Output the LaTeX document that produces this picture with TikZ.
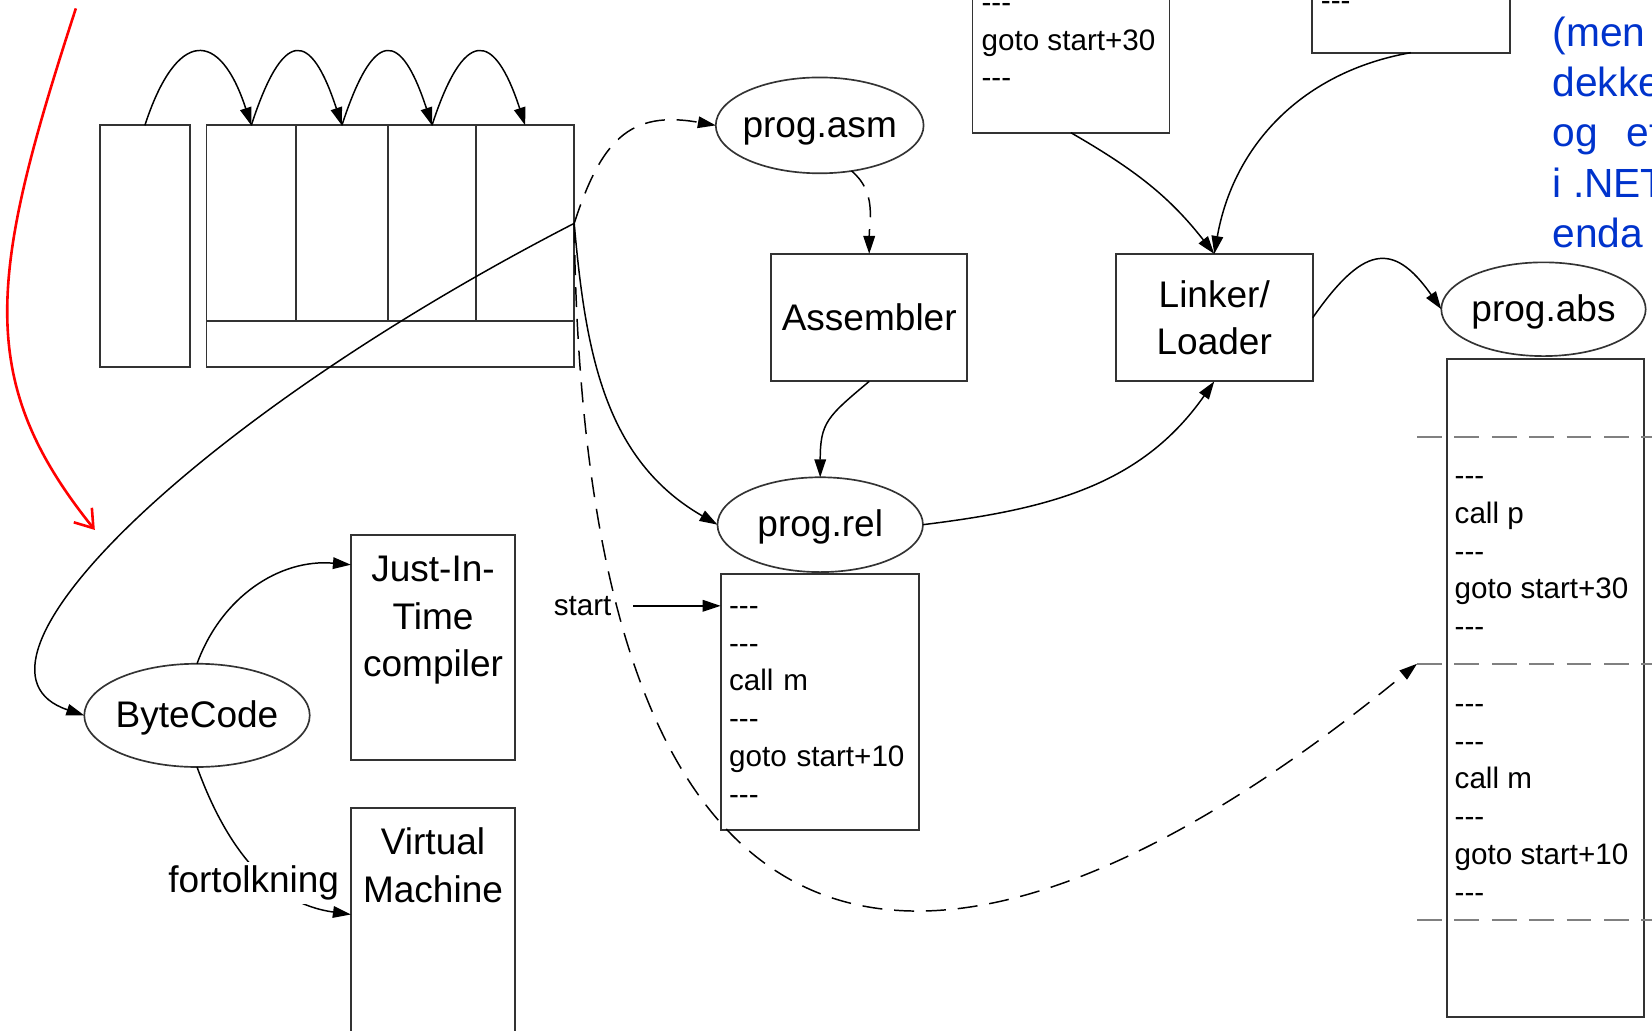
\documentclass[tikz,border=0pt]{standalone}
\usepackage{fontspec}
\setmainfont{Liberation Sans}
\usetikzlibrary{shapes.geometric,arrows.meta,positioning}

\newcommand{\lblfont}{\fontsize{10}{12.8}\selectfont}
\newcommand{\codefont}{\fontsize{8}{10.2}\selectfont}
\newcommand{\notefont}{\fontsize{11}{13.6}\selectfont}
\newcommand{\tripdash}{\strut-\kern0pt-\kern0pt-}
\definecolor{noteblue}{RGB}{0,51,204}

\tikzstyle{blk}=[rectangle, draw=black!80, line width=0.5pt, inner sep=0pt, outer sep=0pt]
\tikzstyle{oval}=[ellipse, draw=black!80, line width=0.45pt, inner xsep=-1pt, inner ysep=0pt, outer sep=0pt, font=\lblfont, text height=0.8em, text depth=0.16em]
\tikzstyle{codetxt}=[align=left, inner sep=0pt, font=\codefont]
\tikzstyle{arr}=[thin, -{Triangle[length=1.7mm,width=1.1mm]}]
\tikzstyle{dsh}=[dash pattern=on 5.4pt off 3.2pt]
\tikzstyle{sepline}=[draw=black!50, line width=0.6pt, dash pattern=on 6.7pt off 3.4pt]

\begin{document}
\begin{tikzpicture}[thin]
\useasboundingbox (0,0) rectangle (15.68,9.78);
\clip (0,0) rectangle (15.68,9.78);

% stack frame and cells
\node[blk, minimum width=0.85cm, minimum height=2.29cm] (lrect) at (1.375,7.445) {};
\node[blk, minimum width=0.85cm, minimum height=1.86cm] (c1) at (2.385,7.66) {};
\node[blk, minimum width=0.87cm, minimum height=1.86cm, right=0pt of c1] (c2) {};
\node[blk, minimum width=0.84cm, minimum height=1.86cm, right=0pt of c2] (c3) {};
\node[blk, minimum width=0.93cm, minimum height=1.86cm, right=0pt of c3] (c4) {};
\node[blk, minimum width=3.49cm, minimum height=0.43cm, anchor=north west] (bar) at (c1.south west) {};

\draw[arr] (lrect.north) .. controls +(0.3,0.92) and +(-0.3,0.92) .. (c1.north);
\draw[arr] (c1.north) .. controls +(0.3,0.92) and +(-0.3,0.92) .. (c2.north);
\draw[arr] (c2.north) .. controls +(0.3,0.92) and +(-0.3,0.92) .. (c3.north);
\draw[arr] (c3.north) .. controls +(0.3,0.92) and +(-0.3,0.92) .. (c4.north);

% assembler chain
\node[oval, minimum width=1.96cm, minimum height=0.91cm] (asm) at (7.78,8.59) {prog.asm};
\node[blk, minimum width=1.86cm, minimum height=1.21cm, font=\lblfont] (assembler) at (8.25,6.765) {Assembler};
\node[oval, minimum width=1.95cm, minimum height=0.90cm] (rel) at (7.785,4.80) {prog.rel};
\node[blk, codetxt, text width=1.72cm, inner xsep=0.8mm, minimum height=2.43cm] (relcode) at (7.78,3.115)
  {\tripdash\\\tripdash\\call m\\\tripdash\\goto start+10\\\tripdash};
\node[font=\codefont, inner sep=0pt] (startlbl) at (5.53,4.03) {start};

% linker
\node[blk, minimum width=1.87cm, minimum height=1.21cm, font=\lblfont, align=center] (linker) at (11.525,6.765) {Linker/\\Loader};
\node[blk, minimum width=1.87cm, minimum height=2.43cm] (tbox1) at (10.165,9.735) {};
\node[blk, minimum width=1.88cm, minimum height=2.43cm] (tbox2) at (13.39,10.495) {};
\node[codetxt, anchor=west] (tcode1) at (9.31,9.375) {\tripdash\\goto start+30\\\tripdash};
\node[codetxt, anchor=west] (tcode2) at (12.53,9.75) {\tripdash};

% absolute program
\node[oval, minimum width=1.94cm, minimum height=0.89cm] (abs) at (14.65,6.845) {prog.abs};
\node[blk, minimum width=1.87cm, minimum height=6.24cm] (absbox) at (14.665,3.25) {};
\coordinate (sep1) at (13.45,5.63);
\coordinate (sep2) at (13.45,3.48);
\coordinate (sep3) at (13.45,1.05);
\draw[sepline] (sep1) -- ++(2.4,0);
\draw[sepline] (sep2) -- ++(2.4,0);
\draw[sepline] (sep3) -- ++(2.4,0);
\node[codetxt, anchor=west] (abs1) at (13.80,4.525) {\tripdash\\call p\\\tripdash\\goto start+30\\\tripdash};
\node[codetxt, anchor=west] (abs2) at (13.80,2.185) {\tripdash\\\tripdash\\call m\\\tripdash\\goto start+10\\\tripdash};

% bytecode
\node[oval, minimum width=2.14cm, minimum height=0.98cm] (bc) at (1.87,2.99) {ByteCode};
\node[blk, minimum width=1.56cm, minimum height=2.13cm] (jit) at (4.11,3.635) {};
\node[align=center, inner sep=0pt, font=\lblfont, below=1.95mm of jit.north] (jittxt) {Just-In-\\Time\\compiler};
\node[blk, minimum width=1.56cm, minimum height=2.4cm] (vm) at (4.11,0.91) {};
\node[align=center, inner sep=0pt, font=\lblfont, below=1.8mm of vm.north] (vmtxt) {Virtual\\Machine};

% note
\node[font=\notefont, text=noteblue, align=left, inner sep=0pt, anchor=north west] (note) at (14.73,9.63)
  {(men\\dekke\\og\hspace{2.7mm}et\\i .NET\\enda};

% connectors
\draw[arr, dsh] (c4.east) to[out=72,in=170,looseness=1.3] (asm.west);
\draw[arr] (c4.east) to[out=-85,in=150] (rel.west);
\draw[arr] (c4.east) .. controls +(-3.65,-1.88) and +(-1.35,0.45) .. (bc.west);
\draw[arr, dsh] (c4.east) .. controls +(0.10,-8.68) and +(-3.6,-2.95) .. (sep2);
\draw[arr, dsh] (asm.-55) to[out=-40,in=90] (assembler.north);
\draw[arr] (assembler.south) to[out=-140,in=90,looseness=1.3] (rel.north);
\draw[arr] ([xshift=2mm]startlbl.east) -- (relcode.west |- startlbl);
\draw[arr] (rel.east) to[out=7,in=235] (linker.south);
\draw[arr] (tbox1.south) to[out=-30,in=128] (linker.north);
\draw[arr] (tbox2.south) to[out=190,in=80] (linker.north);
\draw[arr] (linker.east) to[out=55,in=125,looseness=1.7] (abs.west);
\draw[arr] (bc.north) to[out=70,in=175] ([yshift=-2.8mm]jit.north west);
\draw[arr] (bc.south) to[out=-70,in=172] node[pos=0.5, yshift=-1.6mm, fill=white, inner sep=1pt, font=\lblfont] {fortolkning} ([yshift=-10.1mm]vm.north west);

% red pointer
\coordinate (redtop) at (0.72,9.70);
\coordinate (redtip) at (0.90,4.75);
\draw[red, line width=0.7pt, -{Straight Barb[length=1.6mm,width=2.2mm]}] (redtop) .. controls +(-0.82,-2.52) and +(-1.15,1.43) .. (redtip);

\end{tikzpicture}
\end{document}
